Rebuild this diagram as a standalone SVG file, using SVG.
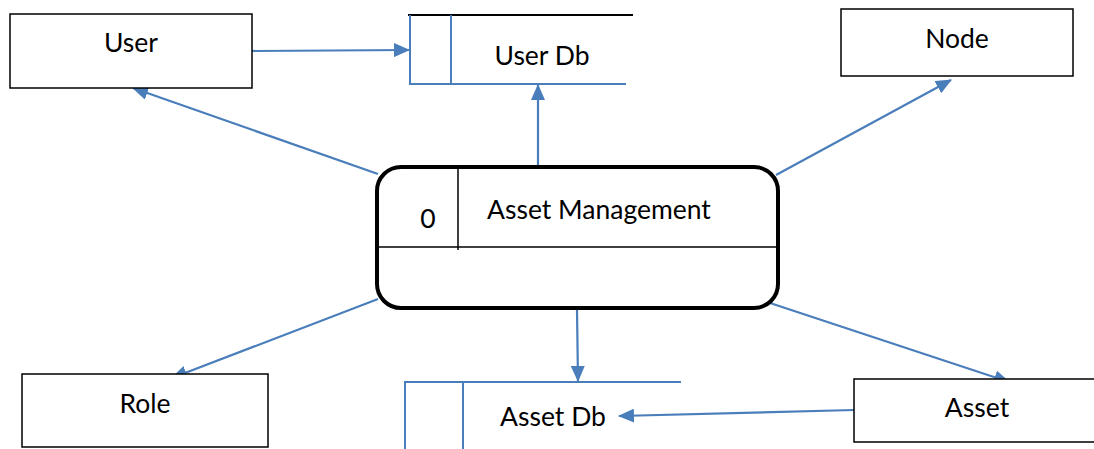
<svg xmlns="http://www.w3.org/2000/svg" width="1094" height="449" viewBox="0 0 1094 449">
  <style>
    .box { fill: #ffffff; stroke: #000000; stroke-width: 1.5; }
    .label { font-family: Lato, "Open Sans", sans-serif; font-size: 26.5px; fill: #000000; }
    .flow { stroke: #4A7EBB; stroke-width: 2.2; fill: none; marker-end: url(#arrow); }
    .store { stroke: #4A7EBB; stroke-width: 2; fill: none; }
  </style>
  <defs>
    <marker id="arrow" viewBox="0 0 16 14" refX="15" refY="7" markerWidth="16" markerHeight="14" markerUnits="userSpaceOnUse" orient="auto">
      <path d="M0,0 L16,7 L0,14 z" fill="#4A7EBB"/>
    </marker>
  </defs>
  <rect width="1094" height="449" fill="#ffffff"/>

  <!-- connectors -->
  <g id="connectors">
    <line class="flow" x1="252" y1="51" x2="409" y2="50"/>
    <line class="flow" x1="378" y1="174" x2="133" y2="88"/>
    <line class="flow" x1="538" y1="166" x2="538" y2="85"/>
    <line class="flow" x1="776" y1="175" x2="951" y2="80"/>
    <line class="flow" x1="378" y1="299" x2="172" y2="378"/>
    <line class="flow" x1="577" y1="310" x2="578" y2="381"/>
    <line class="flow" x1="770" y1="303" x2="1009" y2="382"/>
    <line class="flow" x1="854" y1="410" x2="619" y2="416"/>
  </g>

  <!-- external entities -->
  <g id="user">
    <rect class="box" x="10" y="14" width="242" height="74"/>
    <text class="label" x="131" y="52" text-anchor="middle">User</text>
  </g>
  <g id="node">
    <rect class="box" x="841" y="9" width="232" height="67"/>
    <text class="label" x="957" y="48" text-anchor="middle">Node</text>
  </g>
  <g id="role">
    <rect class="box" x="22" y="374" width="246" height="73"/>
    <text class="label" x="145" y="413" text-anchor="middle">Role</text>
  </g>
  <g id="asset">
    <rect class="box" x="854" y="379" width="245" height="63"/>
    <text class="label" x="977" y="417" text-anchor="middle">Asset</text>
  </g>

  <!-- data stores -->
  <g id="user-db">
    <line x1="408" y1="15" x2="633" y2="15" stroke="#000000" stroke-width="2"/>
    <polyline class="store" points="410,15 410,84 626,84"/>
    <line class="store" x1="451" y1="15" x2="451" y2="84"/>
    <text class="label" x="542" y="65" text-anchor="middle">User Db</text>
  </g>
  <g id="asset-db">
    <polyline class="store" points="405,449 405,382 681,382"/>
    <line class="store" x1="463" y1="382" x2="463" y2="449"/>
    <text class="label" x="553" y="426" text-anchor="middle">Asset Db</text>
  </g>

  <!-- process -->
  <g id="asset-management">
    <rect x="377" y="167" width="401" height="141" rx="24" ry="24" fill="#ffffff" stroke="#000000" stroke-width="4"/>
    <line x1="379" y1="247" x2="776" y2="247" stroke="#000000" stroke-width="1.5"/>
    <line x1="458" y1="169" x2="458" y2="250" stroke="#000000" stroke-width="1.5"/>
    <text class="label" x="428" y="228" text-anchor="middle">0</text>
    <text class="label" x="487" y="219">Asset Management</text>
  </g>
</svg>
